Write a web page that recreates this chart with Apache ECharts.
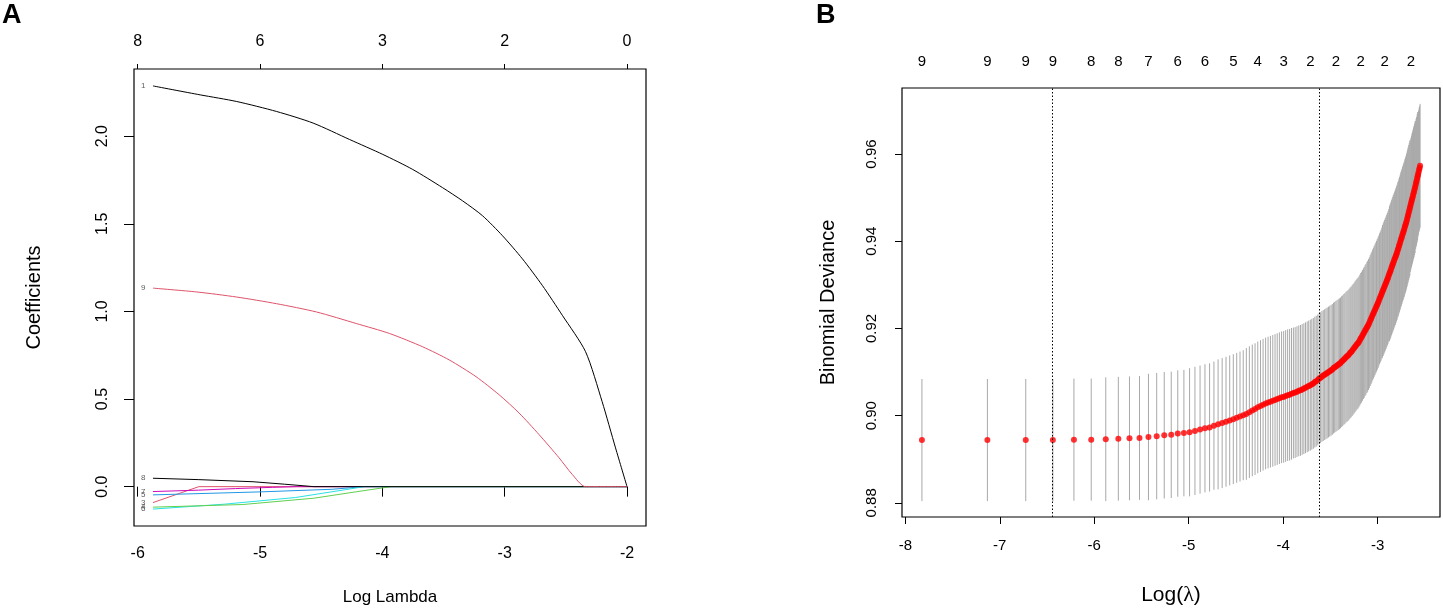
<!DOCTYPE html>
<html>
<head>
<meta charset="utf-8">
<title>LASSO coefficient paths and cross-validated deviance</title>
<script src="https://cdn.jsdelivr.net/npm/echarts@6/dist/echarts.min.js"></script>
<style>
html, body { margin: 0; padding: 0; background: #fff; }
#chart { width: 1443px; height: 611px; }
</style>
</head>
<body>
<div id="chart"></div>
<script>
// ---------- panel A : coefficient paths (x = log lambda, y = coefficient) ----------
var coefPath1 = [[-5.875,2.287],[-5.489,2.236],[-5.19,2.198],[-4.864,2.141],[-4.566,2.075],[-4.267,1.981],
    [-3.996,1.896],[-3.751,1.810],[-3.507,1.706],[-3.344,1.631],[-3.181,1.546],[-3.018,1.432],[-2.855,1.300],
    [-2.692,1.148],[-2.529,0.978],[-2.339,0.770],[-2.204,0.486],[-2.094,0.221],[-2.0,0]];
var coefPath9 = [[-5.875,1.133],[-5.516,1.111],[-5.19,1.082],[-4.864,1.044],[-4.539,0.997],[-4.213,0.931],
    [-3.941,0.874],[-3.670,0.798],[-3.453,0.723],[-3.235,0.628],[-3.045,0.524],[-2.882,0.420],[-2.719,0.297],
    [-2.556,0.165],[-2.448,0.070],[-2.339,0],[-2.0,0]];
var coefPath8 = [[-5.875,0.048],[-5.5,0.040],[-5.057,0.028],[-4.8,0.014],[-4.56,0],[-2.0,0]];
var coefPath7 = [[-5.875,-0.028],[-5.5,-0.020],[-5.2,-0.011],[-4.9,-0.004],[-4.7,0],[-2.0,0]];
var coefPath5 = [[-5.875,-0.047],[-5.0,-0.030],[-4.41,-0.015],[-4.15,0],[-2.0,0]];
var coefPath3 = [[-5.875,-0.091],[-5.5,0],[-2.0,0]];
var coefPath4 = [[-5.875,-0.117],[-5.14,-0.102],[-4.56,-0.066],[-4.21,-0.029],[-3.93,0],[-2.0,0]];
var coefPath6 = [[-5.875,-0.128],[-5.29,-0.100],[-4.71,-0.062],[-4.30,-0.017],[-4.15,0],[-2.0,0]];

var ticksA = [-6, -5, -4, -3, -2];
var dfLabelsA = ['8', '6', '3', '2', '0'];
var coefTicks = [0, 0.5, 1.0, 1.5, 2.0];

// ---------- panel B : 10-fold CV binomial deviance ----------
var logLam = [-7.824,-7.131,-6.725,-6.438,-6.215,-6.032,-5.878,-5.745,-5.627,-5.521,
    -5.426,-5.339,-5.259,-5.185,-5.116,-5.051,-4.991,-4.934,-4.880,-4.828,
    -4.779,-4.733,-4.689,-4.646,-4.605,-4.566,-4.528,-4.492,-4.457,-4.423,
    -4.390,-4.358,-4.327,-4.298,-4.269,-4.240,-4.213,-4.186,-4.160,-4.135,
    -4.110,-4.086,-4.063,-4.040,-4.017,-3.995,-3.974,-3.953,-3.932,-3.912,
    -3.892,-3.873,-3.854,-3.835,-3.817,-3.799,-3.781,-3.764,-3.746,-3.730,
    -3.713,-3.697,-3.681,-3.665,-3.650,-3.634,-3.619,-3.604,-3.590,-3.576,
    -3.561,-3.547,-3.534,-3.520,-3.507,-3.493,-3.480,-3.467,-3.455,-3.442,
    -3.430,-3.417,-3.405,-3.393,-3.381,-3.370,-3.358,-3.347,-3.335,-3.324,
    -3.313,-3.302,-3.291,-3.281,-3.270,-3.260,-3.249,-3.239,-3.229,-3.219,
    -3.209,-3.199,-3.189,-3.180,-3.170,-3.161,-3.151,-3.142,-3.133,-3.124,
    -3.114,-3.106,-3.097,-3.088,-3.079,-3.070,-3.062,-3.053,-3.045,-3.037,
    -3.028,-3.020,-3.012,-3.004,-2.996,-2.988,-2.980,-2.972,-2.964,-2.956,
    -2.949,-2.941,-2.934,-2.926,-2.919,-2.911,-2.904,-2.897,-2.890,-2.882,
    -2.875,-2.868,-2.861,-2.854,-2.847,-2.840,-2.834,-2.827,-2.820,-2.813,
    -2.807,-2.800,-2.794,-2.787,-2.781,-2.774,-2.768,-2.761,-2.755,-2.749,
    -2.743,-2.736,-2.730,-2.724,-2.718,-2.712,-2.706,-2.700,-2.694,-2.688,
    -2.682,-2.677,-2.671,-2.665,-2.659,-2.654,-2.648,-2.642,-2.637,-2.631,
    -2.626,-2.620,-2.615,-2.609,-2.604,-2.598,-2.593,-2.588,-2.582,-2.577,
    -2.572,-2.567,-2.561,-2.556,-2.551];
var cvMean = [0.8944,0.8944,0.8944,0.8944,0.8945,0.8945,0.8946,0.8947,0.8948,0.8949,
    0.8951,0.8953,0.8955,0.8956,0.8959,0.8960,0.8962,0.8965,0.8968,0.8971,
    0.8973,0.8977,0.8980,0.8983,0.8986,0.8989,0.8992,0.8995,0.8998,0.9001,
    0.9004,0.9008,0.9012,0.9015,0.9019,0.9022,0.9025,0.9028,0.9030,0.9032,
    0.9034,0.9036,0.9038,0.9040,0.9042,0.9043,0.9045,0.9047,0.9048,0.9050,
    0.9052,0.9053,0.9055,0.9057,0.9058,0.9060,0.9062,0.9064,0.9066,0.9068,
    0.9070,0.9072,0.9074,0.9077,0.9079,0.9082,0.9085,0.9087,0.9090,0.9092,
    0.9094,0.9096,0.9098,0.9100,0.9102,0.9104,0.9106,0.9109,0.9111,0.9113,
    0.9115,0.9117,0.9119,0.9121,0.9124,0.9126,0.9129,0.9131,0.9134,0.9136,
    0.9138,0.9141,0.9144,0.9146,0.9149,0.9152,0.9155,0.9158,0.9161,0.9164,
    0.9166,0.9169,0.9173,0.9177,0.9180,0.9184,0.9188,0.9191,0.9195,0.9198,
    0.9202,0.9205,0.9209,0.9213,0.9218,0.9222,0.9226,0.9231,0.9235,0.9239,
    0.9243,0.9247,0.9251,0.9255,0.9259,0.9263,0.9268,0.9272,0.9276,0.9281,
    0.9285,0.9289,0.9293,0.9297,0.9301,0.9305,0.9309,0.9313,0.9317,0.9322,
    0.9326,0.9330,0.9334,0.9339,0.9343,0.9347,0.9351,0.9355,0.9359,0.9363,
    0.9367,0.9371,0.9375,0.9380,0.9384,0.9389,0.9393,0.9398,0.9403,0.9407,
    0.9411,0.9416,0.9420,0.9424,0.9428,0.9433,0.9437,0.9441,0.9446,0.9451,
    0.9456,0.9461,0.9466,0.9471,0.9476,0.9481,0.9486,0.9491,0.9496,0.9500,
    0.9505,0.9510,0.9514,0.9519,0.9524,0.9529,0.9534,0.9538,0.9544,0.9549,
    0.9553,0.9558,0.9564,0.9568,0.9573];
var cvSd = [0.0140,0.0140,0.0140,0.0140,0.0140,0.0140,0.0142,0.0142,0.0142,0.0142,
    0.0145,0.0145,0.0145,0.0145,0.0145,0.0145,0.0147,0.0147,0.0147,0.0147,
    0.0147,0.0147,0.0149,0.0149,0.0149,0.0149,0.0149,0.0149,0.0149,0.0149,
    0.0151,0.0151,0.0151,0.0151,0.0151,0.0151,0.0151,0.0151,0.0151,0.0151,
    0.0151,0.0151,0.0151,0.0151,0.0151,0.0151,0.0151,0.0151,0.0151,0.0151,
    0.0150,0.0150,0.0150,0.0150,0.0150,0.0150,0.0150,0.0150,0.0150,0.0150,
    0.0150,0.0150,0.0150,0.0150,0.0150,0.0150,0.0150,0.0150,0.0150,0.0150,
    0.0150,0.0150,0.0150,0.0150,0.0150,0.0150,0.0150,0.0150,0.0150,0.0150,
    0.0150,0.0150,0.0150,0.0150,0.0150,0.0150,0.0150,0.0150,0.0150,0.0150,
    0.0150,0.0150,0.0150,0.0150,0.0150,0.0150,0.0150,0.0150,0.0150,0.0150,
    0.0150,0.0150,0.0150,0.0150,0.0150,0.0150,0.0150,0.0150,0.0150,0.0150,
    0.0150,0.0150,0.0150,0.0150,0.0150,0.0150,0.0150,0.0150,0.0150,0.0150,
    0.0150,0.0150,0.0150,0.0150,0.0150,0.0150,0.0150,0.0150,0.0150,0.0150,
    0.0152,0.0152,0.0152,0.0152,0.0152,0.0152,0.0152,0.0152,0.0152,0.0152,
    0.0155,0.0155,0.0155,0.0155,0.0155,0.0155,0.0155,0.0155,0.0155,0.0155,
    0.0155,0.0155,0.0155,0.0155,0.0155,0.0155,0.0155,0.0155,0.0155,0.0155,
    0.0155,0.0155,0.0155,0.0155,0.0155,0.0155,0.0155,0.0155,0.0155,0.0155,
    0.0155,0.0155,0.0155,0.0155,0.0155,0.0151,0.0151,0.0151,0.0151,0.0151,
    0.0151,0.0151,0.0151,0.0151,0.0151,0.0147,0.0147,0.0147,0.0147,0.0147,
    0.0142,0.0142,0.0142,0.0142,0.0142];

var lambdaMin = -6.438;   // left dotted line
var lambda1se = -3.619;   // right dotted line
var ticksB = [-8, -7, -6, -5, -4, -3];
var devTicks = [0.88, 0.90, 0.92, 0.94, 0.96];
var dfAtB = [-7.824,-7.131,-6.725,-6.438,-6.032,-5.745,-5.426,-5.116,-4.828,-4.528,
    -4.269,-3.995,-3.713,-3.442,-3.180,-2.926,-2.648];
var dfLabelsB = ['9','9','9','9','8','8','7','6','6','5','4','3','2','2','2','2','2'];

var font = 'Liberation Sans, Arial, Helvetica, sans-serif';

// R style: data range widened by 4% on each side
function pad(lo, hi) {
    var d = (hi - lo) * 0.04;
    return [lo - d, hi + d];
}
function pickLabel(list, labels, v) {
    for (var i = 0; i < list.length; i++) {
        if (Math.abs(list[i] - v) < 1e-6) return labels[i];
    }
    return '';
}

// draw order matters: later lines sit on top along the zero line
var paths = [
    { name: '3', color: '#DF536B', data: coefPath3 },
    { name: '7', color: '#CD0BBC', data: coefPath7 },
    { name: '5', color: '#2297E6', data: coefPath5 },
    { name: '6', color: '#28E2E5', data: coefPath6 },
    { name: '4', color: '#61D04F', data: coefPath4 },
    { name: '8', color: '#000000', data: coefPath8 },
    { name: '1', color: '#000000', data: coefPath1 },
    { name: '9', color: '#DF536B', data: coefPath9 }
];

var axLo = Infinity, axHi = -Infinity, ayLo = Infinity, ayHi = -Infinity;
paths.forEach(function (p) {
    p.data.forEach(function (d) {
        axLo = Math.min(axLo, d[0]); axHi = Math.max(axHi, d[0]);
        ayLo = Math.min(ayLo, d[1]); ayHi = Math.max(ayHi, d[1]);
    });
});
var xA = pad(axLo, axHi), yA = pad(ayLo, ayHi);

var barData = [], dotData = [];
var byLo = Infinity, byHi = -Infinity;
for (var i = 0; i < logLam.length; i++) {
    var lo = cvMean[i] - cvSd[i], hi = cvMean[i] + cvSd[i];
    barData.push([logLam[i], lo, hi]);
    dotData.push([logLam[i], cvMean[i]]);
    byLo = Math.min(byLo, lo); byHi = Math.max(byHi, hi);
}
var xB = pad(logLam[0], logLam[logLam.length - 1]), yB = pad(byLo, byHi);

var series = [];
paths.forEach(function (p) {
    series.push({
        type: 'line', xAxisIndex: 0, yAxisIndex: 0, name: p.name,
        data: p.data, showSymbol: false, symbol: 'none',
        smooth: p.data.length > 8 ? 0.25 : false,
        lineStyle: { color: p.color, width: 1 },
        silent: true, animation: false
    });
});
// variable numbers at the left end of each path
series.push({
    type: 'scatter', xAxisIndex: 0, yAxisIndex: 0,
    data: paths.map(function (p) { return [p.data[0][0], p.data[0][1], p.name]; }),
    symbolSize: 1, itemStyle: { color: 'rgba(0,0,0,0)' },
    label: {
        show: true, position: 'left', distance: 7,
        formatter: function (q) { return q.value[2]; },
        fontSize: 8, fontFamily: font, color: '#333'
    },
    silent: true, animation: false
});
// error bars
series.push({
    type: 'custom', xAxisIndex: 2, yAxisIndex: 1,
    data: barData, encode: { x: 0, y: [1, 2] },
    renderItem: function (params, api) {
        var a = api.coord([api.value(0), api.value(1)]);
        var b = api.coord([api.value(0), api.value(2)]);
        return {
            type: 'line',
            shape: { x1: a[0], y1: a[1], x2: b[0], y2: b[1] },
            style: { stroke: '#A9A9A9', lineWidth: 1 }
        };
    },
    silent: true, animation: false
});
// mean deviance points + lambda.min / lambda.1se
series.push({
    type: 'scatter', xAxisIndex: 2, yAxisIndex: 1,
    data: dotData, symbolSize: 6,
    itemStyle: { color: '#FF0000' },
    markLine: {
        silent: true, symbol: 'none', label: { show: false },
        lineStyle: { color: '#000', width: 1, type: [1.5, 2] },
        data: [{ xAxis: lambdaMin }, { xAxis: lambda1se }],
        animation: false
    },
    silent: true, animation: false
});

var option = {
    animation: false,
    backgroundColor: '#fff',
    textStyle: { fontFamily: font },
    grid: [
        { left: 134, top: 69, width: 512, height: 459, show: true, borderColor: '#000', borderWidth: 1.2, backgroundColor: 'transparent' },
        { left: 902, top: 88, width: 538, height: 431, show: true, borderColor: '#000', borderWidth: 1.2, backgroundColor: 'transparent' }
    ],
    xAxis: [
        {
            gridIndex: 0, type: 'value', min: xA[0], max: xA[1],
            axisLine: { show: false }, splitLine: { show: false },
            axisTick: { customValues: ticksA, length: 10, lineStyle: { color: '#000' } },
            axisLabel: { customValues: ticksA, margin: 20, fontSize: 16, color: '#000', fontFamily: font },
            name: 'Log Lambda', nameLocation: 'middle', nameGap: 63,
            nameTextStyle: { fontSize: 17, color: '#000', fontFamily: font }
        },
        {
            gridIndex: 0, type: 'value', position: 'top', min: xA[0], max: xA[1],
            axisLine: { show: false }, splitLine: { show: false },
            axisTick: { customValues: ticksA, length: 5, lineStyle: { color: '#000' } },
            axisLabel: {
                customValues: ticksA, margin: 19, fontSize: 16, color: '#000', fontFamily: font,
                formatter: function (v) { return pickLabel(ticksA, dfLabelsA, v); }
            }
        },
        {
            gridIndex: 1, type: 'value', min: xB[0], max: xB[1],
            axisLine: { show: false }, splitLine: { show: false },
            axisTick: { customValues: ticksB, length: 7, lineStyle: { color: '#000' } },
            axisLabel: { customValues: ticksB, margin: 21, fontSize: 15, color: '#000', fontFamily: font },
            name: '{a|Log(}{b|λ}{a|)}', nameLocation: 'middle', nameGap: 67,
            nameTextStyle: {
                color: '#000',
                rich: {
                    a: { fontSize: 21, fontFamily: font, color: '#000' },
                    b: { fontSize: 22, fontFamily: 'Liberation Serif, DejaVu Serif, serif', color: '#000' }
                }
            }
        },
        {
            gridIndex: 1, type: 'value', position: 'top', min: xB[0], max: xB[1],
            axisLine: { show: false }, splitLine: { show: false },
            axisTick: { show: false },
            axisLabel: {
                customValues: dfAtB, margin: 19, fontSize: 15, color: '#000', fontFamily: font,
                formatter: function (v) { return pickLabel(dfAtB, dfLabelsB, v); }
            }
        }
    ],
    yAxis: [
        {
            gridIndex: 0, type: 'value', min: yA[0], max: yA[1],
            axisLine: { show: false }, splitLine: { show: false },
            axisTick: { customValues: coefTicks, length: 10, lineStyle: { color: '#000' } },
            axisLabel: {
                customValues: coefTicks, rotate: 90, margin: 23, fontSize: 16, color: '#000', fontFamily: font,
                formatter: function (v) { return v.toFixed(1); }
            },
            name: 'Coefficients', nameLocation: 'middle', nameGap: 90,
            nameTextStyle: { fontSize: 20, color: '#000', fontFamily: font }
        },
        {
            gridIndex: 1, type: 'value', min: yB[0], max: yB[1],
            axisLine: { show: false }, splitLine: { show: false },
            axisTick: { customValues: devTicks, length: 7, lineStyle: { color: '#000' } },
            axisLabel: {
                customValues: devTicks, rotate: 90, margin: 23, fontSize: 15, color: '#000', fontFamily: font,
                formatter: function (v) { return v.toFixed(2); }
            },
            name: 'Binomial Deviance', nameLocation: 'middle', nameGap: 64,
            nameTextStyle: { fontSize: 20, color: '#000', fontFamily: font }
        }
    ],
    graphic: [
        { type: 'text', left: 2, top: 2, style: { text: 'A', font: 'bold 27px ' + font, fill: '#000' } },
        { type: 'text', left: 816, top: 2, style: { text: 'B', font: 'bold 27px ' + font, fill: '#000' } }
    ],
    series: series
};

var chart = echarts.init(document.getElementById('chart'));
chart.setOption(option);
</script>
</body>
</html>
